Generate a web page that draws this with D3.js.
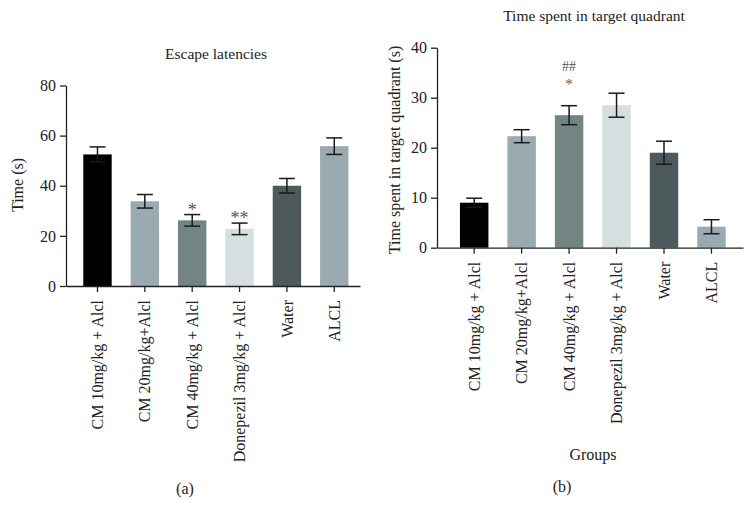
<!DOCTYPE html>
<html>
<head>
<meta charset="utf-8">
<script src="https://cdn.jsdelivr.net/npm/d3@7/dist/d3.min.js"></script>
<style>
  html, body { margin: 0; padding: 0; background: #fff; }
  svg { display: block; }
  text { font-family: "Liberation Serif", "DejaVu Serif", serif; }
</style>
</head>
<body>
<svg id="chart" width="755" height="520"></svg>
<script>
// ---- data ----
const groups = ["CM 10mg/kg + Alcl", "CM 20mg/kg+Alcl", "CM 40mg/kg + Alcl", "Donepezil 3mg/kg + Alcl", "Water", "ALCL"];
const barColors = ["#000000", "#9aaab1", "#728583", "#d6dfdf", "#4c5a5c", "#9aaab1"];

const escapeMean = [52.5, 33.8, 26.2, 22.8, 40.0, 55.8];
const escapeErr  = [3.0, 2.7, 2.3, 2.3, 2.9, 3.3];
const escapeMarks = ["", "", "*", "**", "", ""];
const escapeTicks = [0, 20, 40, 60, 80];

const quadMean = [9.0, 22.3, 26.5, 28.5, 19.0, 4.2];
const quadErr  = [0.9, 1.3, 1.9, 2.4, 2.3, 1.4];
const quadMarks = [[], [], ["##", "*"], [], [], []];
const quadTicks = [0, 10, 20, 30, 40];

const svg = d3.select("#chart");
const ink = "#222";

function panel(opts) {
  const g = svg.append("g");
  const x = d3.scaleBand().domain(groups).range([opts.x0, opts.x1])
    .paddingInner(0.4).paddingOuter(opts.po).align(opts.align);
  const y = d3.scaleLinear().domain([0, opts.ymax]).range([opts.y0, opts.y1]);

  // bars
  g.selectAll("rect.bar").data(groups).enter().append("rect")
    .attr("x", d => x(d)).attr("width", x.bandwidth())
    .attr("y", (d, i) => y(opts.mean[i]))
    .attr("height", (d, i) => y(0) - y(opts.mean[i]))
    .attr("fill", (d, i) => barColors[i]);

  // error bars
  const cap = 8;
  const eb = g.selectAll("g.err").data(groups).enter().append("g")
    .attr("stroke", "#1a1a1a").attr("stroke-width", 1.5);
  eb.append("line")
    .attr("x1", d => x(d) + x.bandwidth() / 2).attr("x2", d => x(d) + x.bandwidth() / 2)
    .attr("y1", (d, i) => y(opts.mean[i] + opts.err[i]))
    .attr("y2", (d, i) => y(opts.mean[i] - opts.err[i]));
  eb.append("line")
    .attr("x1", d => x(d) + x.bandwidth() / 2 - cap).attr("x2", d => x(d) + x.bandwidth() / 2 + cap)
    .attr("y1", (d, i) => y(opts.mean[i] + opts.err[i]))
    .attr("y2", (d, i) => y(opts.mean[i] + opts.err[i]));
  eb.append("line")
    .attr("x1", d => x(d) + x.bandwidth() / 2 - cap).attr("x2", d => x(d) + x.bandwidth() / 2 + cap)
    .attr("y1", (d, i) => y(opts.mean[i] - opts.err[i]))
    .attr("y2", (d, i) => y(opts.mean[i] - opts.err[i]));

  // y axis
  const ya = g.append("g").attr("transform", `translate(${opts.x0},0)`)
    .call(d3.axisLeft(y).tickValues(opts.ticks).tickSize(6).tickSizeOuter(0).tickPadding(4));
  ya.select(".domain").attr("stroke", ink).attr("stroke-width", 1.3);
  ya.selectAll(".tick line").attr("stroke", ink).attr("stroke-width", 1.3);
  ya.selectAll(".tick text").style("font-size", "16px").style("fill", ink);

  // x axis
  const xa = g.append("g").attr("transform", `translate(0,${opts.y0})`)
    .call(d3.axisBottom(x).tickSize(6).tickSizeOuter(0).tickPadding(8));
  xa.select(".domain").attr("stroke", ink).attr("stroke-width", 1.3);
  xa.selectAll(".tick line").attr("stroke", ink).attr("stroke-width", 1.3);
  xa.selectAll(".tick text")
    .style("font-size", "16px").style("fill", ink)
    .attr("text-anchor", "end")
    .attr("transform", "rotate(-90)")
    .attr("x", -14).attr("y", 0).attr("dy", "0.35em");

  return { g, x, y };
}

function label(x, y, txt, rot) {
  const t = svg.append("text").attr("text-anchor", "middle")
    .style("font-size", "16px").style("fill", ink).text(txt);
  if (rot) t.attr("transform", `translate(${x},${y}) rotate(-90)`);
  else t.attr("x", x).attr("y", y);
  return t;
}

// ---- panel (a) ----
const A = panel({ x0: 66, x1: 360, y0: 286, y1: 85.5, ymax: 80, po: 0.304, align: 0.6,
  mean: escapeMean, err: escapeErr, ticks: escapeTicks });
A.g.selectAll("text.mark").data(groups).enter().append("text")
  .attr("x", d => A.x(d) + A.x.bandwidth() / 2)
  .attr("y", (d, i) => A.y(escapeMean[i] + escapeErr[i]) + 1)
  .attr("text-anchor", "middle").style("font-size", "18px").style("fill", "#555")
  .text((d, i) => escapeMarks[i]);
label(216, 59, "Escape latencies").style("font-size", "15.5px");
label(23, 185, "Time (s)", true);
label(185, 494, "(a)");

// ---- panel (b) ----
const B = panel({ x0: 437, x1: 743, y0: 247.7, y1: 47.7, ymax: 40, po: 0.424, align: 0.57,
  mean: quadMean, err: quadErr, ticks: quadTicks });
groups.forEach((d, i) => {
  const top = B.y(quadMean[i] + quadErr[i]);
  const cx = B.x(d) + B.x.bandwidth() / 2;
  quadMarks[i].forEach((m, j, arr) => {
    B.g.append("text").attr("x", cx)
      .attr("y", top - 16.5 - (arr.length - 1 - j) * 18)
      .attr("text-anchor", "middle").style("font-size", m === "*" ? "15px" : "14px").style("fill", "#555")
      .text(m);
  });
});
label(594, 21, "Time spent in target quadrant").style("font-size", "15.5px");
label(400, 150, "Time spent in target quadrant (s)", true);
label(593, 460, "Groups");
label(562, 492, "(b)");
</script>
</body>
</html>
